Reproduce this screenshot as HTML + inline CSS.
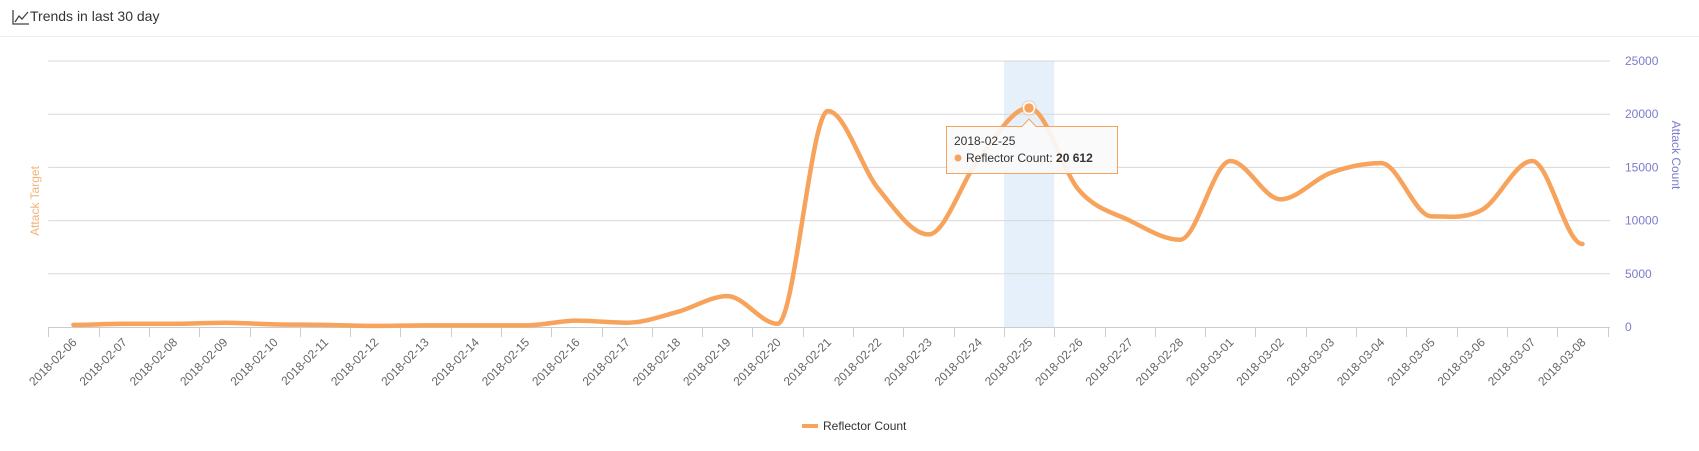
<!DOCTYPE html>
<html><head><meta charset="utf-8"><style>
body{margin:0;background:#fff;width:1699px;height:446px;overflow:hidden;font-family:"Liberation Sans","DejaVu Sans",sans-serif}
</style></head><body>
<svg id="s" width="1699" height="446" xmlns="http://www.w3.org/2000/svg" font-family="Liberation Sans, DejaVu Sans, sans-serif">
<g stroke="#444" stroke-width="1.3" fill="none"><path d="M13 10 V24 H29"/><path d="M15 22 L19 16 L22 19 L28 12"/></g>
<text x="30" y="21" font-size="14" fill="#333">Trends in last 30 day</text>
<line x1="0" y1="36.5" x2="1699" y2="36.5" stroke="#eee"/>
<rect x="1004" y="61" width="50.3" height="266" fill="#e6f0fb"/>
<g id="grid"></g>
<text transform="translate(39,201) rotate(-90)" text-anchor="middle" font-size="12" fill="#f0b47a">Attack Target</text>
<text transform="translate(1672,155) rotate(90)" text-anchor="middle" font-size="12" fill="#7b7bd0">Attack Count</text>
<path id="line" fill="none" stroke="#f7a35c" stroke-width="4.5" stroke-linecap="round" stroke-linejoin="round"/>
<circle cx="1029" cy="108" r="8" fill="#f7a35c" opacity="0.25"/>
<circle cx="1029" cy="108" r="5.5" fill="#f7a35c" stroke="#fff" stroke-width="1.5"/>
<path d="M946.5 126.5 H1022 L1029 119 L1036 126.5 H1117.5 V173.5 H946.5 Z" fill="#fafafa" fill-opacity="0.92" stroke="#f7a35c"/>
<text x="954" y="145" font-size="12" fill="#333">2018-02-25</text>
<circle cx="958" cy="158" r="3.5" fill="#f7a35c"/>
<text x="966" y="162" font-size="12" fill="#333">Reflector Count: <tspan font-weight="bold">20 612</tspan></text>
<line x1="802" y1="426" x2="818" y2="426" stroke="#f7a35c" stroke-width="4"/>
<text x="823" y="430" font-size="12" fill="#333">Reflector Count</text>
</svg>
<script>
var ns="http://www.w3.org/2000/svg",s=document.getElementById('s'),g=document.getElementById('grid');
function el(t,a,txt){var e=document.createElementNS(ns,t);for(var k in a)e.setAttribute(k,a[k]);if(txt)e.textContent=txt;return e;}
var L=48.3,W=50.3,T=61,B=327,H=B-T;
for(var i=0;i<=5;i++){var y=B-i*H/5;
 if(i>0)g.appendChild(el('line',{x1:L,x2:1610,y1:y,y2:y,stroke:'#d8d8d8'}));
 g.appendChild(el('text',{x:1625,y:y+4,'font-size':12,fill:'#7b7bd0'},String(i*5000)));}
g.appendChild(el('line',{x1:L,x2:1610,y1:B+0.5,y2:B+0.5,stroke:'#ccc'}));
var d=[];for(var m=6;m<=28;m++)d.push('2018-02-'+(m<10?'0'+m:m));for(var m=1;m<=8;m++)d.push('2018-03-0'+m);
for(var i=0;i<=31;i++){var x=Math.round(L+i*W)+0.5;g.appendChild(el('line',{x1:x,x2:x,y1:B,y2:B+10,stroke:'#ccc'}));}
for(var i=0;i<31;i++){var x=L+W*(i+0.5);g.appendChild(el('text',{transform:'translate('+(x+4)+',343) rotate(-45)','text-anchor':'end','font-size':12,fill:'#666'},d[i]));}
var v=[200,300,300,400,250,200,100,150,150,150,600,400,1400,2900,300,20300,13000,8700,15800,20612,12800,10000,8200,15600,12000,14500,15400,10400,11000,15600,7800];
var p=v.map(function(a,i){return [L+W*(i+0.5),B-a/25000*H];});
var n=p.length,sl=[];
for(var i=0;i<n;i++){
 if(i==0||i==n-1){sl.push(0);continue;}
 var a=p[i-1][1],b=p[i][1],c=p[i+1][1];
 if((b-a)*(b-c)>=0)sl.push(0);else sl.push((c-a)/(2*W));
}
var s2='M'+p[0][0]+' '+p[0][1];var h=W/3;
for(var i=0;i<n-1;i++){
 s2+=' C'+(p[i][0]+h)+' '+(p[i][1]+sl[i]*h)+' '+(p[i+1][0]-h)+' '+(p[i+1][1]-sl[i+1]*h)+' '+p[i+1][0]+' '+p[i+1][1];}
document.getElementById('line').setAttribute('d',s2);
</script>
</body></html>
